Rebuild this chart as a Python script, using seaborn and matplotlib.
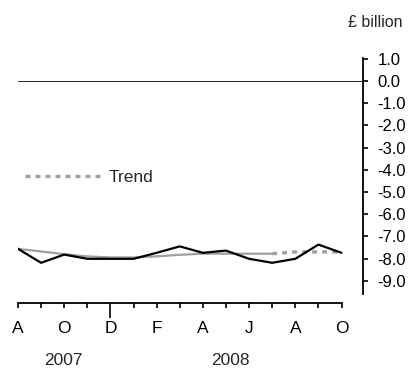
import pandas as pd
import numpy as np
import matplotlib.pyplot as plt
import seaborn as sns

sns.set_theme(style="white")
plt.rcParams['font.family'] = ['Liberation Sans', 'DejaVu Sans']
plt.rcParams['axes.unicode_minus'] = False

# monthly data, Aug 2007 - Oct 2008
month_labels = ['A', '', 'O', '', 'D', '', 'F', '', 'A', '', 'J', '', 'A', '', 'O']
balance = [-7.56, -8.19, -7.82, -8.01, -8.01, -8.01, -7.74, -7.45, -7.74, -7.64,
           -8.01, -8.19, -8.01, -7.37, -7.74]
trend = [-7.56, -7.68, -7.80, -7.90, -7.95, -7.95, -7.90, -7.83, -7.78, -7.78,
         -7.78, -7.78]
trend_projected = [-7.78, -7.70, -7.70, -7.70]
years = ['2007', '2008']
year_pos = [1.95, 9.2]
yticks = [1.0, 0.0, -1.0, -2.0, -3.0, -4.0, -5.0, -6.0, -7.0, -8.0, -9.0]

df = pd.DataFrame({'month': np.arange(len(balance)), 'balance': balance})
df_trend = pd.DataFrame({'month': np.arange(len(trend)), 'trend': trend})
df_proj = pd.DataFrame({'month': np.arange(len(trend) - 1, len(trend) - 1 + len(trend_projected)),
                        'trend': trend_projected})

fig = plt.figure(figsize=(4.1, 3.69), dpi=100)
ax = fig.add_axes([0.0439, 0.1789, 0.8415, 0.6648])

ax.axhline(0, color='black', linewidth=0.6)
sns.lineplot(data=df_trend, x='month', y='trend', color='#a0a0a0', linewidth=1.6, ax=ax, legend=False)
sns.lineplot(data=df_proj, x='month', y='trend', color='#a0a0a0', linewidth=2.4,
             linestyle=(0, (1.5, 1.5)), ax=ax, label='Trend')
sns.lineplot(data=df, x='month', y='balance', color='black', linewidth=1.6, ax=ax, legend=False)

ax.set_xlim(0, 14.93)
ax.set_ylim(-10.0, 1.05)
ax.set_xlabel('')
ax.set_ylabel('')

for side in ['top', 'left']:
    ax.spines[side].set_visible(False)
ax.spines['right'].set_bounds(-9.6, 1.05)
ax.spines['bottom'].set_bounds(0, 14)
ax.spines['right'].set_linewidth(1.3)
ax.spines['bottom'].set_linewidth(1.3)
ax.spines['right'].set_color('black')
ax.spines['bottom'].set_color('black')

ax.yaxis.tick_right()
ax.set_yticks(yticks)
ax.set_yticklabels([f'{v:.1f}' for v in yticks])
ax.tick_params(axis='y', direction='out', length=3.8, width=1.2, pad=6.5, labelsize=12, colors='black', right=True)

ax.set_xticks(np.arange(len(month_labels)))
ax.set_xticklabels(month_labels)
ax.tick_params(axis='x', direction='out', length=3.8, width=1.2, pad=9.5, labelsize=12.5, colors='black', bottom=True)
ax.xaxis.get_major_ticks()[4].tick1line.set_markersize(11)

for yr, xp in zip(years, year_pos):
    ax.annotate(yr, xy=(xp, 0.022), xycoords=('data', 'figure fraction'),
                ha='center', va='center', fontsize=12.5)

fig.text(0.915, 0.938, '£ billion', ha='center', va='center', fontsize=11.5)

ax.legend(loc='center left', bbox_to_anchor=(0.06, 0.52), bbox_transform=fig.transFigure,
          frameon=False, fontsize=12.5, handlelength=4.4, handletextpad=0.45, borderpad=0, borderaxespad=0)

plt.savefig("out.png", dpi=100)
plt.close()
